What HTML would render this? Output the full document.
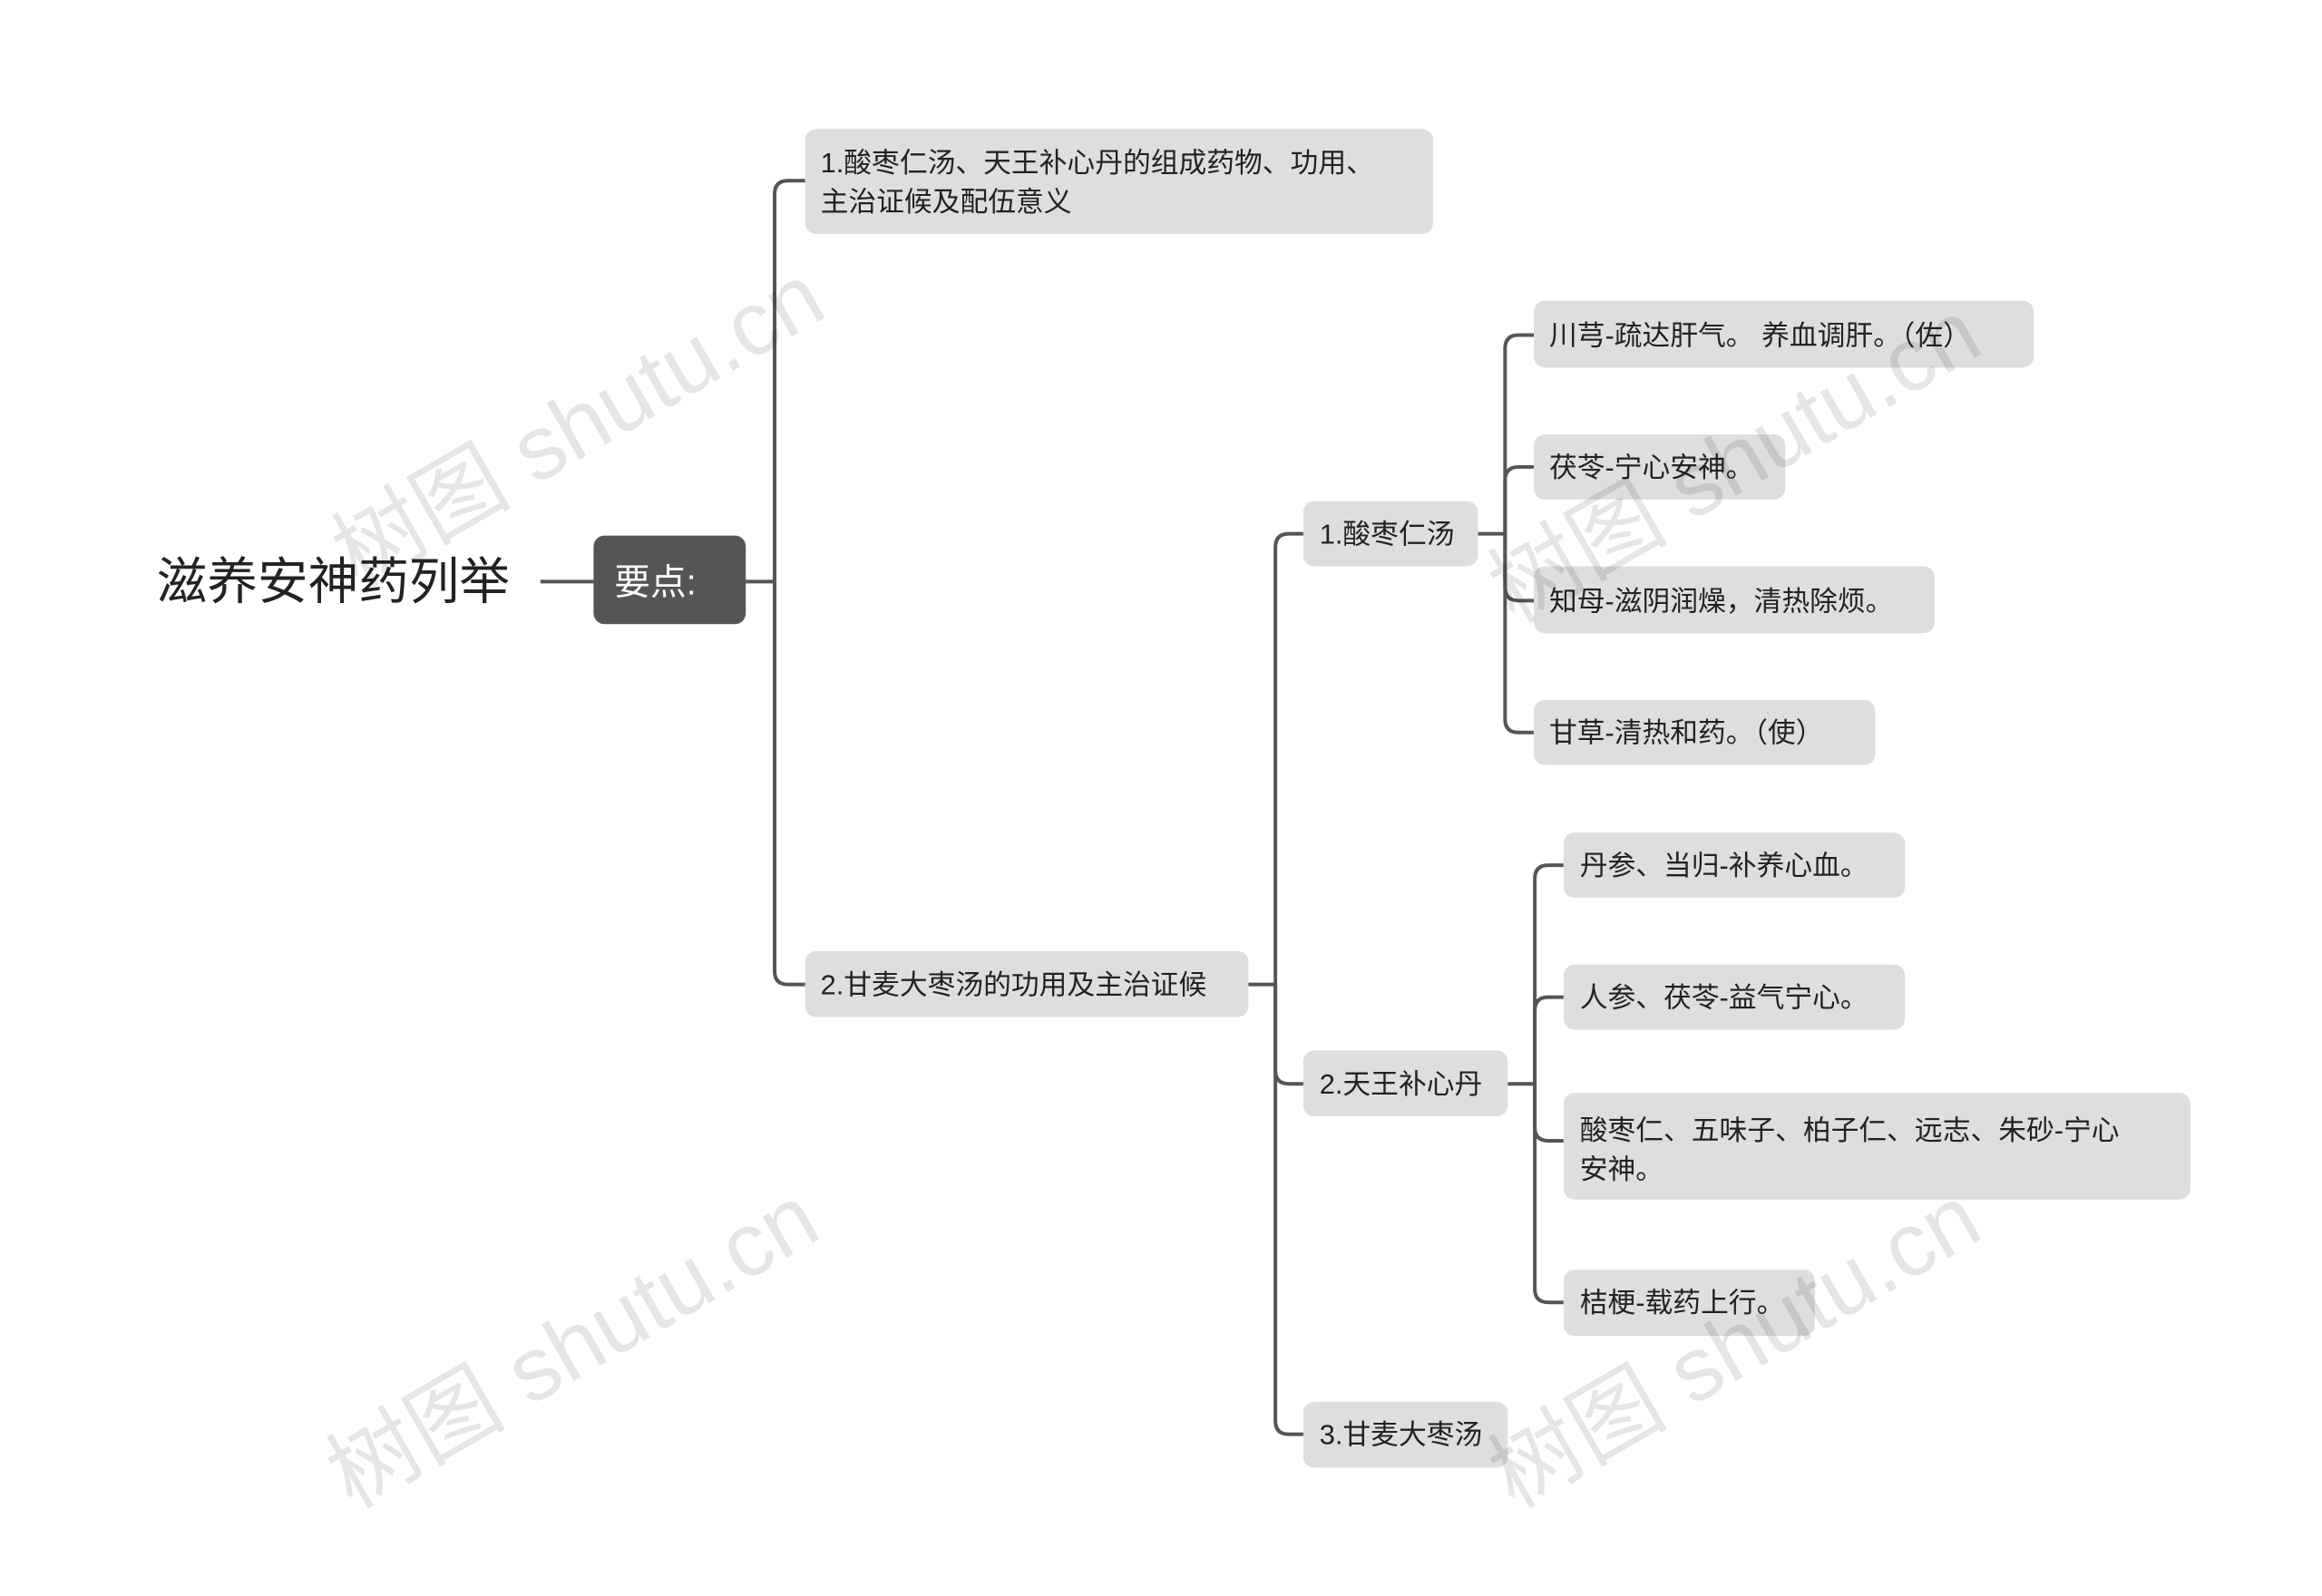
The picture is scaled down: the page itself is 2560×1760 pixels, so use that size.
<!DOCTYPE html>
<html><head><meta charset="utf-8"><style>
html,body{margin:0;padding:0;background:#fff;}
svg{display:block;}
text{font-family:"Liberation Sans","Noto Sans CJK SC",sans-serif;}
</style></head><body>
<svg width="2560" height="1760" viewBox="0 0 2560 1760" xmlns="http://www.w3.org/2000/svg">
<g transform="translate(3,0) scale(0.993,0.996)">
<g fill="none" stroke="#555" stroke-width="4">
<path d="M597 644 H656"/>
<path d="M825 644 H857"/>
<path d="M857 644 V215 Q857 200 872 200 H891"/>
<path d="M857 644 V1075 Q857 1090 872 1090 H891"/>
<path d="M1383 1090 H1413"/>
<path d="M1413 1090 V606 Q1413 591 1428 591 H1444"/>
<path d="M1413 1090 V1185 Q1413 1200 1428 1200 H1444"/>
<path d="M1413 1090 V1573 Q1413 1588 1428 1588 H1444"/>
<path d="M1638 591 H1668"/>
<path d="M1668 591 V386 Q1668 371 1683 371 H1700"/>
<path d="M1668 591 V532 Q1668 517 1683 517 H1700"/>
<path d="M1668 591 V650 Q1668 665 1683 665 H1700"/>
<path d="M1668 591 V796 Q1668 811 1683 811 H1700"/>
<path d="M1671 1200 H1701"/>
<path d="M1701 1200 V973 Q1701 958 1716 958 H1733"/>
<path d="M1701 1200 V1119 Q1701 1104 1716 1104 H1733"/>
<path d="M1701 1200 V1248 Q1701 1263 1716 1263 H1733"/>
<path d="M1701 1200 V1427 Q1701 1442 1716 1442 H1733"/>
</g>
<g fill="#dedede">
<rect x="891" y="143" width="697" height="116" rx="12"/>
<rect x="891" y="1053" width="492" height="73" rx="12"/>
<rect x="1444" y="555" width="194" height="72" rx="12"/>
<rect x="1444" y="1163" width="227" height="73" rx="12"/>
<rect x="1444" y="1552" width="227" height="73" rx="12"/>
<rect x="1700" y="333" width="555" height="74" rx="12"/>
<rect x="1700" y="481" width="279" height="72" rx="12"/>
<rect x="1700" y="627" width="445" height="74" rx="12"/>
<rect x="1700" y="775" width="379" height="72" rx="12"/>
<rect x="1733" y="922" width="379" height="72" rx="12"/>
<rect x="1733" y="1068" width="379" height="72" rx="12"/>
<rect x="1733" y="1210" width="696" height="118" rx="12"/>
<rect x="1733" y="1406" width="279" height="73" rx="12"/>
</g>
<rect x="656" y="593" width="169" height="98" rx="12" fill="#555"/>
<text x="171" y="663" font-size="56" fill="#222">滋养安神药列举</text>
<text x="679" y="658" font-size="40" fill="#fff">要点:</text>
<g font-size="31" fill="#222">
<text x="908" y="191">1.酸枣仁汤、天王补心丹的组成药物、功用、</text>
<text x="908" y="234">主治证候及配伍意义</text>
<text x="908" y="1101">2.甘麦大枣汤的功用及主治证候</text>
<text x="1462" y="602">1.酸枣仁汤</text>
<text x="1462" y="1211">2.天王补心丹</text>
<text x="1462" y="1599">3.甘麦大枣汤</text>
<text x="1717" y="382">川芎-疏达肝气。 养血调肝。（佐）</text>
<text x="1717" y="528">茯苓-宁心安神。</text>
<text x="1717" y="676">知母-滋阴润燥，清热除烦。</text>
<text x="1717" y="822">甘草-清热和药。（使）</text>
<text x="1751" y="969">丹参、当归-补养心血。</text>
<text x="1751" y="1115">人参、茯苓-益气宁心。</text>
<text x="1751" y="1262">酸枣仁、五味子、柏子仁、远志、朱砂-宁心</text>
<text x="1751" y="1305">安神。</text>
<text x="1751" y="1453">桔梗-载药上行。</text>
</g>
<g font-family="Liberation Serif, Noto Serif CJK SC, serif" font-size="100" fill="#000" fill-opacity="0.1">
<text transform="translate(656,500) rotate(-30)" text-anchor="middle">树图 shutu.cn</text>
<text transform="translate(650,1520) rotate(-30)" text-anchor="middle">树图 shutu.cn</text>
<text transform="translate(1940,540) rotate(-30)" text-anchor="middle">树图 shutu.cn</text>
<text transform="translate(1940,1520) rotate(-30)" text-anchor="middle">树图 shutu.cn</text>
</g>
</g>
</svg>
</body></html>
